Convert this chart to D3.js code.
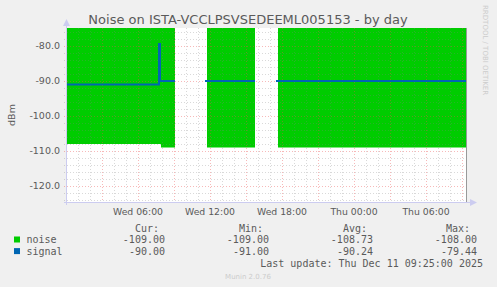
<!DOCTYPE html>
<html>
<head>
<meta charset="utf-8">
<script src="https://cdn.jsdelivr.net/npm/d3@7"></script>
<style>
  body { margin: 0; background: #f0f0f0; }
  svg { display: block; }
</style>
</head>
<body>
<script>
// Data: each value holds from times[i] up to times[i+1], null = no data
var times = ["2025-12-10 00:05", "2025-12-10 07:45", "2025-12-10 07:50", "2025-12-10 07:55",
             "2025-12-10 09:05", "2025-12-10 11:35", "2025-12-10 11:45", "2025-12-10 15:45",
             "2025-12-10 17:30", "2025-12-10 17:40", "2025-12-11 09:25"];
var noise  = [-108, -108, -108, -109, null, null, -109, null, null, -109];
var signal = [-91, -79.44, -90, -90, null, -90, -90, null, -90, -90];

var yTicks = [-120, -110, -100, -90, -80];
var legendNames = ["noise", "signal"];
var legendCur = ["-109.00", "-90.00"];
var legendMin = ["-109.00", "-91.00"];
var legendAvg = ["-108.73", "-90.24"];
var legendMax = ["-108.00", "-79.44"];

// Configuration (plot box)
var width = 497, height = 287;
var pL = 67, pR = 467, pT = 28, pB = 202;
var noiseColor = "#00cc00", signalColor = "#0066b3";
var textColor = "#5a5a5a";

var parse = d3.timeParse("%Y-%m-%d %H:%M");
var t = times.map(parse);

var x = d3.scaleTime().domain([t[0], t[t.length - 1]]).range([pL, pR]);
var y = d3.scaleLinear().domain([-124.571, -74.857]).range([pB, pT]);

// turn the step values into point pairs so gaps stay gaps
function steps(vals) {
    var pts = [];
    vals.forEach(function (v, i) {
        pts.push({ t: t[i], v: v }, { t: t[i + 1], v: v });
    });
    return pts;
}

var svg = d3.select("body").append("svg").attr("width", width).attr("height", height);
svg.append("rect").attr("width", width).attr("height", height).attr("fill", "#f0f0f0");
svg.append("rect").attr("x", pL).attr("y", pT).attr("width", pR - pL).attr("height", pB - pT).attr("fill", "#fff");

svg.append("clipPath").attr("id", "plot").append("rect")
    .attr("x", pL).attr("y", pT).attr("width", pR - pL).attr("height", pB - pT);

// noise area from 0 down to the value
var area = d3.area().defined(function (d) { return d.v != null; })
    .x(function (d) { return x(d.t); }).y0(y(0)).y1(function (d) { return y(d.v); });
svg.append("path").datum(steps(noise)).attr("clip-path", "url(#plot)")
    .attr("fill", noiseColor).attr("d", area);

// grid
var g = svg.append("g");
var minorColor = "rgba(128,128,128,0.3)", majorColor = "rgba(235,80,80,0.4)";
var minorY = d3.range(-124, -74, 2);
g.selectAll(".ym").data(minorY.filter(function (v) { return v % 10 != 0; })).enter().append("line")
    .attr("x1", pL - 3).attr("x2", pR).attr("y1", function (d) { return y(d) + 0.5; }).attr("y2", function (d) { return y(d) + 0.5; })
    .attr("stroke", minorColor).attr("stroke-dasharray", "1,2");
var hours = d3.timeHour.range(t[0], t[t.length - 1]);
g.selectAll(".xm").data(hours.filter(function (d) { return d.getHours() % 3 != 0; })).enter().append("line")
    .attr("x1", function (d) { return x(d) + 0.5; }).attr("x2", function (d) { return x(d) + 0.5; })
    .attr("y1", pT).attr("y2", pB + 3)
    .attr("stroke", minorColor).attr("stroke-dasharray", "1,2");
g.selectAll(".yM").data(yTicks).enter().append("line")
    .attr("x1", pL - 3).attr("x2", pR).attr("y1", function (d) { return y(d) + 0.5; }).attr("y2", function (d) { return y(d) + 0.5; })
    .attr("stroke", majorColor).attr("stroke-dasharray", "1,2");
g.selectAll(".xM").data(hours.filter(function (d) { return d.getHours() % 3 == 0; })).enter().append("line")
    .attr("x1", function (d) { return x(d) + 0.5; }).attr("x2", function (d) { return x(d) + 0.5; })
    .attr("y1", pT).attr("y2", pB + 3)
    .attr("stroke", majorColor).attr("stroke-dasharray", "1,2");

// signal line
var line = d3.line().defined(function (d) { return d.v != null; })
    .x(function (d) { return x(d.t); }).y(function (d) { return y(d.v); });
svg.append("path").datum(steps(signal)).attr("fill", "none")
    .attr("stroke", signalColor).attr("stroke-width", 2).attr("d", line);

// axes with arrows
var axisColor = "#ccccf0";
svg.append("line").attr("x1", pL - 0.5).attr("x2", pL - 0.5).attr("y1", pB + 3).attr("y2", pT - 4).attr("stroke", axisColor);
svg.append("path").attr("d", "M" + (pL - 4) + "," + (pT - 2) + "L" + (pL - 0.5) + "," + (pT - 9) + "L" + (pL + 3) + "," + (pT - 2) + "Z").attr("fill", axisColor);
svg.append("line").attr("x1", pL - 3).attr("x2", pR + 4).attr("y1", pB + 0.5).attr("y2", pB + 0.5).attr("stroke", axisColor);
svg.append("path").attr("d", "M" + (pR + 3) + "," + (pB - 3) + "L" + (pR + 10) + "," + (pB + 0.5) + "L" + (pR + 3) + "," + (pB + 4) + "Z").attr("fill", axisColor);
svg.append("line").attr("x1", pR - 0.5).attr("x2", pR - 0.5).attr("y1", pT).attr("y2", pB).attr("stroke", "#999");

// tick labels
svg.selectAll(".yl").data(yTicks).enter().append("text")
    .attr("x", pL - 7).attr("y", function (d) { return y(d); }).attr("dy", "0.35em")
    .attr("text-anchor", "end").attr("font-family", "DejaVu Sans").attr("font-size", 9.5).attr("fill", textColor)
    .text(function (d) { return d3.format(".1f")(d).replace("−", "-"); });
svg.selectAll(".xl").data(hours.filter(function (d) { return d.getHours() % 6 == 0; })).enter().append("text")
    .attr("x", function (d) { return x(d); }).attr("y", 215)
    .attr("text-anchor", "middle").attr("font-family", "DejaVu Sans").attr("font-size", 9.3).attr("fill", textColor)
    .text(d3.timeFormat("%a %H:%M"));

// title and side texts
svg.append("text").attr("x", 248).attr("y", 23.5).attr("text-anchor", "middle")
    .attr("font-family", "DejaVu Sans").attr("font-size", 13).attr("fill", textColor)
    .text("Noise on ISTA-VCCLPSVSEDEEML005153 - by day");
svg.append("text").attr("transform", "translate(15,115) rotate(-90)").attr("text-anchor", "middle")
    .attr("font-family", "DejaVu Sans").attr("font-size", 9.5).attr("fill", textColor).text("dBm");
svg.append("text").attr("transform", "translate(483,5) rotate(90)")
    .attr("font-family", "DejaVu Sans").attr("font-size", 7).attr("fill", "#ccc").text("RRDTOOL / TOBI OETIKER");

// legend
var mono = "DejaVu Sans Mono";
var heads = [["Cur:", 159], ["Min:", 263], ["Avg:", 367], ["Max:", 470]];
heads.forEach(function (h) {
    svg.append("text").attr("x", h[1]).attr("y", 231.5).attr("text-anchor", "end")
        .attr("font-family", mono).attr("font-size", 10).attr("fill", textColor).text(h[0]);
});
var cols = [[legendCur, 165], [legendMin, 269], [legendAvg, 373], [legendMax, 477]];
legendNames.forEach(function (name, i) {
    var yy = 243 + i * 11.6;
    svg.append("rect").attr("x", 14).attr("y", yy - 6.5).attr("width", 6).attr("height", 6)
        .attr("fill", i == 0 ? noiseColor : signalColor);
    svg.append("text").attr("x", 26.5).attr("y", yy).attr("font-family", mono).attr("font-size", 10)
        .attr("fill", textColor).text(name);
    cols.forEach(function (c) {
        svg.append("text").attr("x", c[1]).attr("y", yy).attr("text-anchor", "end")
            .attr("font-family", mono).attr("font-size", 10).attr("fill", textColor).text(c[0][i]);
    });
});
svg.append("text").attr("x", 483).attr("y", 267).attr("text-anchor", "end")
    .attr("font-family", mono).attr("font-size", 10).attr("fill", textColor)
    .text("Last update: Thu Dec 11 09:25:00 2025");
svg.append("text").attr("x", 248).attr("y", 279).attr("text-anchor", "middle")
    .attr("font-family", "DejaVu Sans").attr("font-size", 7).attr("fill", "#ccc").text("Munin 2.0.76");
</script>
</body>
</html>
